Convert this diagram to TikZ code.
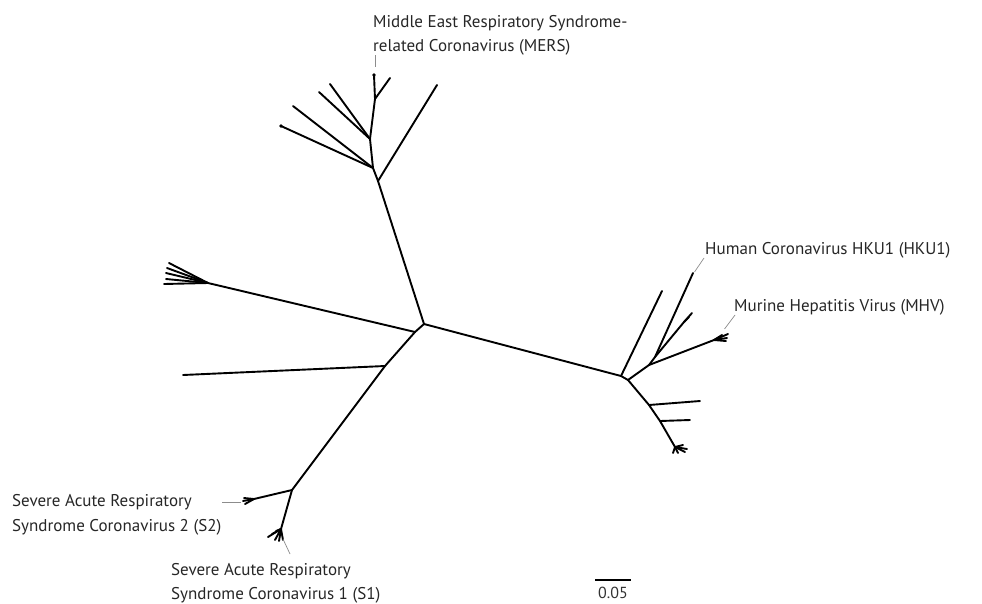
\documentclass[tikz,border=0pt]{standalone}
\usepackage{fontspec}
\setmainfont{PT Sans}
\begin{document}
\begin{tikzpicture}[x=1pt,y=-1pt,
  br/.style={line width=1.9pt, line cap=round, line join=round},
  lead/.style={draw=black!45, line width=0.7pt},
  lab/.style={anchor=base west, inner sep=0pt, text=black!85, font=\fontsize{17}{20}\selectfont},
  tipdot/.style={fill=black, circle, inner sep=0pt, minimum size=3.6pt}
]
\useasboundingbox (0,0) rectangle (982,603);
% internal nodes
\coordinate (N1) at (424,324);
\coordinate (N2) at (415,332);
\coordinate (N3) at (385,366);
\coordinate (D) at (378,181);
\coordinate (C) at (373,168);
\coordinate (B) at (370,139);
\coordinate (A) at (375,99);
\coordinate (F) at (208,283);
\coordinate (S) at (292,490);
\coordinate (S2f) at (254,499);
\coordinate (S1f) at (281,529);
\coordinate (R1) at (621,376);
\coordinate (R) at (628,380);
\coordinate (R3) at (649,365);
\coordinate (R4) at (655,357);
\coordinate (R5) at (684,322);
\coordinate (M) at (714,340);
\coordinate (R6) at (649,405);
\coordinate (R7) at (660,421);
\coordinate (F2) at (675,447);
% tips
\coordinate (tD) at (437,85);
\coordinate (tC1) at (293,106);
\coordinate (tC2) at (281,126);
\coordinate (tB1) at (330,84);
\coordinate (tB2) at (319,92);
\coordinate (tA1) at (390,78);
\coordinate (tA2) at (374,75);
\coordinate (tF1) at (169,263);
\coordinate (tF2) at (167,268);
\coordinate (tF3) at (166,273);
\coordinate (tF4) at (166,279);
\coordinate (tF5) at (164,284);
\coordinate (tN3) at (183,375);
\coordinate (tS2a) at (243,501);
\coordinate (tS2b) at (245,504);
\coordinate (tS2c) at (244,498);
\coordinate (tS1a) at (268,537);
\coordinate (tS1b) at (272,534);
\coordinate (tS1c) at (275,540);
\coordinate (tS1d) at (279,541);
\coordinate (tS1e) at (283,540);
\coordinate (tS1f) at (276,531);
\coordinate (tR1) at (662,291);
\coordinate (tHKU) at (693,273);
\coordinate (tR5a) at (692,313);
\coordinate (tR5b) at (689,317);
\coordinate (tMa) at (728,334);
\coordinate (tMb) at (727,338);
\coordinate (tMc) at (726,341);
\coordinate (tMd) at (722,335);
\coordinate (tR6) at (700,401);
\coordinate (tR7) at (690,420);
\coordinate (tF2a) at (687,449);
\coordinate (tF2b) at (685,452);
\coordinate (tF2c) at (683,445);
\coordinate (tF2d) at (678,453);
\coordinate (tF2e) at (673,453);

% backbone
\draw[br] (D) -- (N1) -- (R1) -- (R);
\draw[br] (N1) -- (N2) -- (N3) -- (S);
% MERS clade
\draw[br] (D) -- (tD);
\draw[br] (D) -- (C) -- (B) -- (A) -- (tA2);
\draw[br] (A) -- (tA1);
\draw[br] (B) -- (tB1);
\draw[br] (B) -- (tB2);
\draw[br] (C) -- (tC1);
\draw[br] (C) -- (tC2);
\node[tipdot] (dA) at (tA2) {};
\node[tipdot] (dC) at (tC2) {};
% left fan
\draw[br] (N2) -- (F);
\foreach \t in {tF1,tF2,tF3,tF4,tF5} \draw[br] (F) -- (\t);
% long left
\draw[br] (N3) -- (tN3);
% SARS
\draw[br] (S) -- (S2f);
\foreach \t in {tS2a,tS2b,tS2c} \draw[br] (S2f) -- (\t);
\draw[br] (S) -- (S1f);
\foreach \t in {tS1a,tS1b,tS1c,tS1d,tS1e,tS1f} \draw[br] (S1f) -- (\t);
% right clade
\draw[br] (R1) -- (tR1);
\draw[br] (R) -- (R3) -- (R4) -- (tHKU);
\draw[br] (R4) -- (R5);
\foreach \t in {tR5a,tR5b} \draw[br] (R5) -- (\t);
\draw[br] (R3) -- (M);
\foreach \t in {tMa,tMb,tMc,tMd} \draw[br] (M) -- (\t);
\draw[br] (R) -- (R6) -- (R7) -- (F2);
\draw[br] (R6) -- (tR6);
\draw[br] (R7) -- (tR7);
\foreach \t in {tF2a,tF2b,tF2c,tF2d,tF2e} \draw[br] (F2) -- (\t);

% labels
\node[lab] (mers1) at (373,27) {Middle East Respiratory Syndrome-};
\node[lab] (mers2) at (373,51) {related Coronavirus (MERS)};
\node[lab] (hku) at (705,254) {Human Coronavirus HKU1 (HKU1)};
\node[lab] (mhv) at (734,311) {Murine Hepatitis Virus (MHV)};
\node[lab] (s2a) at (12,506) {Severe Acute Respiratory};
\node[lab] (s2b) at (12,531) {Syndrome Coronavirus 2 (S2)};
\node[lab] (s1a) at (171,575) {Severe Acute Respiratory};
\node[lab] (s1b) at (171,599) {Syndrome Coronavirus 1 (S1)};
% leaders
\coordinate (lm1) at (375.5,55);
\coordinate (lm2) at (375.5,67);
\draw[lead] (lm1) -- (lm2);
\coordinate (lh1) at (704,258);
\coordinate (lh2) at (694.5,272);
\draw[lead] (lh1) -- (lh2);
\coordinate (lv1) at (735,315);
\coordinate (lv2) at (724.5,329);
\draw[lead] (lv1) -- (lv2);
\coordinate (ls21) at (222,502.5);
\coordinate (ls22) at (241,502.5);
\draw[lead] (ls21) -- (ls22);
\coordinate (ls11) at (290,554);
\coordinate (ls12) at (283,539);
\draw[lead] (ls11) -- (ls12);
% scale bar
\coordinate (sb1) at (595,580);
\coordinate (sb2) at (631,580);
\draw[line width=1.1pt] (sb1) -- (sb2);
\node[anchor=base, inner sep=0pt, text=black!80, font=\fontsize{16}{18}\selectfont] (sbl) at (613,598) {0.05};
\end{tikzpicture}
\end{document}
